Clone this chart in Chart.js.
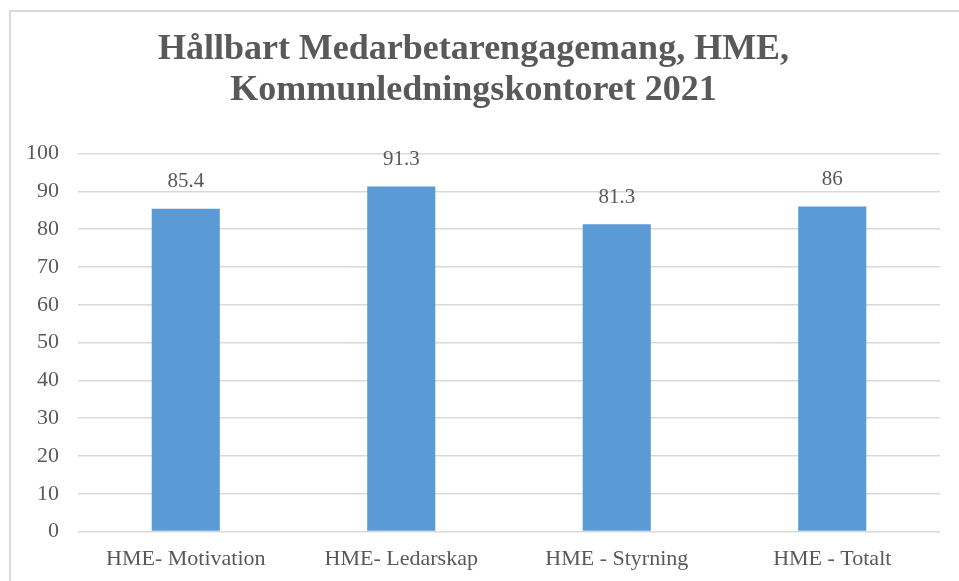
<!DOCTYPE html>
<html>
<head>
<meta charset="utf-8">
<script src="https://cdn.jsdelivr.net/npm/chart.js@4.4.0/dist/chart.umd.min.js"></script>
<style>
  html, body { margin: 0; padding: 0; background: #fff; }
  #wrap { position: relative; width: 959px; height: 581px; overflow: hidden; }
  #frame { position: absolute; left: 9px; top: 10px; width: 1000px; height: 700px; border: 2px solid #d9d9d9; box-sizing: border-box; }
  canvas { position: absolute; left: 0; top: 0; }
</style>
</head>
<body>
<div id="wrap">
  <div id="frame"></div>
  <canvas id="chart" width="959" height="581"></canvas>
</div>
<script>
var categories = ["HME- Motivation", "HME- Ledarskap", "HME - Styrning", "HME - Totalt"];
var values = [85.4, 91.3, 81.3, 86];
var titleLines = ["Hållbart Medarbetarengagemang, HME,", "Kommunledningskontoret 2021"];

var serif = "'Liberation Serif', 'DejaVu Serif', serif";
var grey = "#595959";

// value labels above each bar
var barLabels = {
	id: "barLabels",
	afterDatasetsDraw: function(chart) {
		var ctx = chart.ctx;
		var meta = chart.getDatasetMeta(0);
		ctx.save();
		ctx.font = "21px " + serif;
		ctx.fillStyle = grey;
		ctx.textAlign = "center";
		ctx.textBaseline = "middle";
		meta.data.forEach(function(bar, i) {
			ctx.fillText(String(values[i]), bar.x, bar.y - 27);
		});
		ctx.restore();
	}
};

new Chart(document.getElementById("chart"), {
	type: "bar",
	data: {
		labels: categories,
		datasets: [{
			data: values,
			backgroundColor: "#5b9bd5",
			categoryPercentage: 1,
			barPercentage: 0.316
		}]
	},
	options: {
		responsive: false,
		animation: false,
		layout: { padding: { left: 7, right: 19, top: 0, bottom: 3 } },
		plugins: {
			legend: { display: false },
			tooltip: { enabled: false },
			title: {
				display: true,
				text: titleLines,
				color: grey,
				font: { family: serif, size: 36, weight: "bold", lineHeight: 1.12 },
				padding: { top: 30, bottom: 43 }
			}
		},
		scales: {
			x: {
				grid: { display: false },
				border: { display: false },
				ticks: { color: grey, font: { family: serif, size: 22 }, padding: 6 }
			},
			y: {
				min: 0,
				max: 100,
				ticks: { stepSize: 10, color: grey, font: { family: serif, size: 22 }, padding: 19 },
				grid: { color: "#d9d9d9", lineWidth: 1.5, drawTicks: false },
				border: { display: false }
			}
		}
	},
	plugins: [barLabels]
});
</script>
</body>
</html>
